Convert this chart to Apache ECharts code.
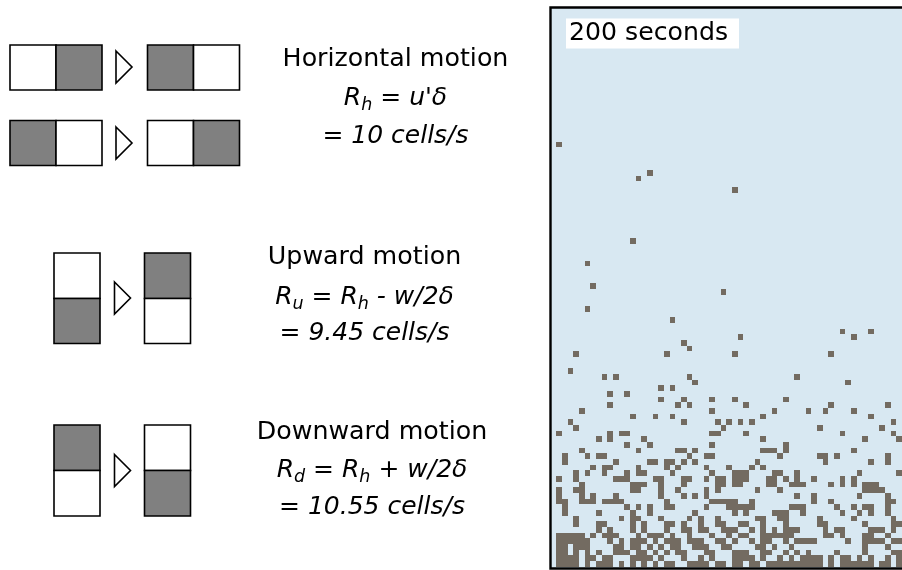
<!DOCTYPE html>
<html><head><meta charset="utf-8">
<script src="https://cdn.jsdelivr.net/npm/echarts@6/dist/echarts.min.js"></script>
<style>html,body{margin:0;padding:0;background:#fff}#c{width:902px;height:570px}</style>
</head><body><div id="c"></div>
<script>
// occupied cells: for each grid row (0 = bottom row), the occupied column indices
const cellCols = [
  [1,2,3,4,6,8,9,10,12,14,16,18,20,21,24,25,26,27,29,30,32,33,35,36,38,39,40,41,42,43,44,45,46,47,49,51,52,53,54,55,56,58,59,61],
  [1,2,3,4,6,7,9,10,14,15,16,17,19,23,26,28,32,33,34,35,37,40,42,44,45,46,47,49,51,52,54,56,59,61],
  [1,2,4,6,8,11,12,13,15,16,18,20,22,23,27,28,32,33,34,37,38,41,43,45,50,55,60,61],
  [1,2,4,5,6,11,12,14,15,17,19,21,22,25,26,27,30,31,36,37,39,42,55,59],
  [1,2,3,4,5,6,10,12,14,15,16,18,20,21,22,24,25,26,29,30,32,35,37,38,41,43,44,45,46,52,55,56,57,58,60,61],
  [1,2,3,4,5,7,9,10,11,15,17,18,19,21,24,28,31,33,34,37,38,39,40,41,42,48,49,51,55,56,59],
  [8,10,14,16,20,23,24,26,27,30,31,32,35,37,39,41,42,43,48,50,51,56,57,58,60],
  [4,8,9,14,16,20,21,23,26,29,30,33,34,37,41,47,48,55,60,61],
  [4,12,14,15,19,24,26,29,36,37,40,41,47,53,60],
  [2,8,14,17,25,32,34,39,40,41,44,51,54,56,59],
  [2,13,15,17,20,21,27,31,32,33,34,35,42,43,44,50,53,55,56,59],
  [1,2,5,6,7,9,10,11,12,20,28,29,30,31,32,35,46,49,59,60],
  [1,5,7,11,19,23,25,27,43,46,54,59],
  [1,4,5,14,15,19,22,27,29,36,40,55,56,57,58],
  [5,14,15,16,19,23,29,30,32,33,38,39,42,43,44,49,51,53,55,56,57],
  [1,4,11,12,13,18,19,23,24,27,29,30,32,33,34,38,39,41,43,46,51,53],
  [4,6,9,13,15,16,21,28,32,33,34,39,40,43,54,61],
  [7,9,10,15,20,22,27,31,35,37],
  [2,11,17,18,20,21,23,25,36,48,56,59],
  [2,6,8,9,24,27,28,40,47,48,50,59],
  [5,15,22,23,25,37,38,39,41,53],
  [13,17,28,41],
  [8,10,16,37,55,61],
  [1,10,12,13,28,29,34,51,60],
  [4,30,47,58],
  [3,23,29,31,33,35,60],
  [14,18,21,37,56],
  [5,28,39,45,48,53],
  [10,22,24,34,49,59],
  [19,23,28,32,41],
  [10,13],
  [19,21]
];
// isolated cells higher up: [column, row]
const scatteredCells = [
  [1,74],[17,69],[15,68],[32,66],[14,57],[6,53],[7,49],[30,48],[6,45],[21,43],
  [51,41],[56,41],[33,40],[53,40],[23,39],[24,38],[4,37],[20,37],[32,37],[49,37],
  [3,34],[9,33],[11,33],[24,33],[43,33],[25,32],[52,32]
];
const panelLabel = '200 seconds';
const motionTitles = ['Horizontal motion', 'Upward motion', 'Downward motion'];
const rateFormulas = [
  '{i|R}{s|h}{i| = u\'δ}',
  '{i|R}{s|u}{i| = R}{s|h}{i| - w/2δ}',
  '{i|R}{s|d}{i| = R}{s|h}{i| + w/2δ}'
];
const rateValues = ['= 10 cells/s', '= 9.45 cells/s', '= 10.55 cells/s'];

const CELL = 5.67;
const GL = 550.5, GT = 7.5, GW = 902 - 550.5, GH = 561;
const cellData = [];
cellCols.forEach((cols, r) => cols.forEach(c => cellData.push([c, r])));
scatteredCells.forEach(p => cellData.push([p[0], p[1]]));

const F = 'DejaVu Sans';
const GRAY = '#808080';
function box(x, y, w, h, fill) {
  return {type:'rect', shape:{x:x, y:y, width:w, height:h}, style:{fill:fill, stroke:'#000', lineWidth:1.6}, z:10};
}
function tri(x, y) {
  return {type:'polygon', shape:{points:[[x, y], [x+16, y+16], [x, y+32]]}, style:{fill:'#fff', stroke:'#000', lineWidth:1.6}, z:10};
}
const graphics = [];
graphics.push(box(10,45,46,45,'#fff'), box(56,45,46,45,GRAY), tri(116,51), box(147.5,45,46,45,GRAY), box(193.5,45,46,45,'#fff'));
graphics.push(box(10,120.5,46,45,GRAY), box(56,120.5,46,45,'#fff'), tri(116,127), box(147.5,120.5,46,45,'#fff'), box(193.5,120.5,46,45,GRAY));
graphics.push(box(54,253,46,45.5,'#fff'), box(54,298.5,46,45,GRAY), tri(114.5,282), box(144.5,253,46,45.5,GRAY), box(144.5,298.5,46,45,'#fff'));
graphics.push(box(54,425,46,45.5,GRAY), box(54,470.5,46,45.5,'#fff'), tri(114.5,454.5), box(144.5,425,46,45.5,'#fff'), box(144.5,470.5,46,45.5,GRAY));

const rich = {
  i: {fontFamily:F, fontSize:25, fontStyle:'italic', fill:'#000', lineHeight:32, verticalAlign:'middle'},
  s: {fontFamily:F, fontSize:17.5, fontStyle:'italic', fill:'#000', lineHeight:18, verticalAlign:'bottom'}
};
const cx = [395.5, 364.5, 372];
const ys = [[59, 98, 136], [257.5, 297, 333.5], [432.5, 470, 507.5]];
for (let k = 0; k < 3; k++) {
  graphics.push({type:'text', z:10, style:{text:motionTitles[k], x:cx[k], y:ys[k][0], align:'center', verticalAlign:'middle', font:'25.3px "DejaVu Sans"', fill:'#000'}});
  graphics.push({type:'text', z:10, style:{text:rateFormulas[k], x:cx[k], y:ys[k][1], align:'center', verticalAlign:'middle', rich:rich}});
  graphics.push({type:'text', z:10, style:{text:rateValues[k], x:cx[k], y:ys[k][2], align:'center', verticalAlign:'middle', font:'italic 25px "DejaVu Sans"', fill:'#000'}});
}
graphics.push({type:'rect', z:20, shape:{x:566, y:18.5, width:173, height:30}, style:{fill:'#fff'}});
graphics.push({type:'text', z:21, style:{text:panelLabel, x:569, y:33.5, align:'left', verticalAlign:'middle', font:'25.2px "DejaVu Sans"', fill:'#000'}});
graphics.push({type:'polyline', z:30, shape:{points:[[910, 7.5], [550.5, 7.5], [550.5, 568.5], [910, 568.5]]}, style:{stroke:'#000', lineWidth:2.4, fill:null}});

const chart = echarts.init(document.getElementById('c'), null, {renderer:'canvas'});
chart.setOption({
  animation: false,
  grid: {left:GL, top:GT, width:GW, height:GH, show:true, backgroundColor:'#d8e8f2', borderWidth:0},
  xAxis: {type:'value', min:0, max:GW/CELL, show:false},
  yAxis: {type:'value', min:-0.3, max:-0.3 + GH/CELL, show:false},
  series: [{
    type:'custom', clip:true,
    data: cellData,
    renderItem: function (params, api) {
      const a = api.coord([api.value(0), api.value(1) + 1]);
      const b = api.coord([api.value(0) + 1, api.value(1)]);
      const x0 = Math.round(a[0]), y0 = Math.round(a[1]);
      const x1 = Math.round(b[0]), y1 = Math.round(b[1]);
      return {type:'rect', shape:{x:x0, y:y0, width:x1 - x0, height:y1 - y0}, style:{fill:'#736b61', stroke:null, lineWidth:0}};
    }
  }],
  graphic: graphics
});
</script>
</body></html>
